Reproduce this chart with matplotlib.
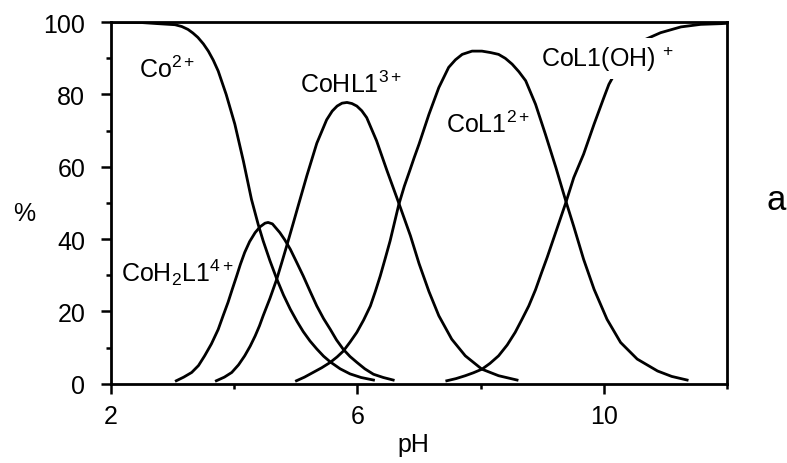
import matplotlib
matplotlib.use("Agg")
import matplotlib.pyplot as plt
from matplotlib.ticker import MultipleLocator

plt.rcParams['font.family'] = ['Liberation Sans', 'DejaVu Sans']
plt.rcParams['mathtext.fontset'] = 'custom'
plt.rcParams['mathtext.rm'] = 'Liberation Sans'
plt.rcParams['mathtext.it'] = 'Liberation Sans'
plt.rcParams['mathtext.default'] = 'regular'

# species distribution (pH, % of total Co)
ph_co = [2.0, 2.5, 2.76, 3.04, 3.15, 3.25, 3.33, 3.41, 3.50, 3.58, 3.66,
         3.74, 3.87, 4.01, 4.15, 4.28, 4.39, 4.47, 4.58, 4.69, 4.80, 4.91,
         5.02, 5.12, 5.23, 5.34, 5.45, 5.56, 5.72, 5.88, 6.06, 6.26]
pct_co = [100, 99.9, 99.6, 99.3, 98.8, 98.0, 97.0, 95.8, 94.0, 92.0, 89.5,
          86.5, 80.0, 71.8, 61.5, 51.0, 44.0, 39.5, 34.0, 29.0, 24.5, 20.6,
          17.2, 14.4, 11.8, 9.6, 7.6, 6.0, 4.1, 2.7, 1.7, 1.0]

ph_coh2l = [3.06, 3.18, 3.31, 3.42, 3.52, 3.63, 3.74, 3.82, 3.90, 3.97, 4.04,
            4.10, 4.17, 4.25, 4.34, 4.42, 4.50, 4.55, 4.62, 4.74, 4.82, 4.91,
            5.01, 5.12, 5.23, 5.34, 5.45, 5.56, 5.66, 5.77, 5.88, 5.99, 6.12,
            6.26, 6.42, 6.58]
pct_coh2l = [0.8, 1.8, 3.1, 5.0, 7.7, 11.0, 15.0, 18.8, 22.5, 26.2, 29.8,
             33.0, 36.3, 39.3, 41.8, 43.4, 44.4, 44.6, 44.2, 41.8, 39.8, 37.2,
             33.7, 29.8, 25.6, 21.5, 18.0, 15.0, 12.1, 9.5, 7.5, 5.9, 4.1,
             2.6, 1.7, 1.0]

ph_cohl = [3.71, 3.84, 3.96, 4.07, 4.17, 4.26, 4.34, 4.41, 4.47, 4.58, 4.69,
           4.77, 4.85, 4.96, 5.04, 5.18, 5.34, 5.50, 5.59, 5.67, 5.75, 5.83,
           5.91, 5.99, 6.07, 6.15, 6.31, 6.48, 6.67, 6.86, 7.0, 7.16, 7.32,
           7.53, 7.75, 8.02, 8.29, 8.59]
pct_cohl = [0.8, 1.8, 3.1, 5.2, 7.7, 10.4, 13.2, 16.0, 18.8, 23.6, 28.9,
            33.4, 38.0, 44.5, 49.3, 57.6, 66.5, 73.0, 75.4, 76.8, 77.6, 77.8,
            77.5, 76.8, 75.5, 73.6, 67.2, 58.9, 50.0, 40.9, 33.2, 25.5, 18.8,
            12.3, 7.7, 4.0, 2.2, 1.0]

ph_col = [5.01, 5.14, 5.28, 5.42, 5.56, 5.67, 5.77, 5.88, 5.99, 6.10, 6.21,
          6.29, 6.37, 6.45, 6.53, 6.60, 6.67, 6.76, 6.85, 6.92, 7.0, 7.16,
          7.32, 7.48, 7.59, 7.70, 7.86, 8.02, 8.16, 8.29, 8.40, 8.51, 8.62,
          8.73, 8.89, 9.05, 9.22, 9.38, 9.51, 9.67, 9.84, 10.05, 10.27,
          10.54, 10.87, 11.1, 11.35]
pct_col = [0.8, 1.8, 3.1, 4.4, 5.9, 7.4, 9.0, 11.5, 14.2, 17.6, 21.5, 25.5,
           29.8, 34.6, 39.5, 44.5, 49.5, 54.6, 59.0, 62.5, 66.3, 74.5, 81.9,
           87.5, 89.6, 91.1, 92.0, 92.0, 91.6, 91.1, 90.0, 88.4, 86.3, 83.8,
           77.3, 69.0, 59.8, 50.6, 43.5, 34.4, 26.1, 17.8, 11.4, 6.8, 3.5,
           2.0, 1.0]

ph_cooh = [7.45, 7.60, 7.75, 7.88, 8.02, 8.15, 8.29, 8.43, 8.56, 8.67, 8.78,
           8.89, 8.99, 9.08, 9.16, 9.27, 9.38, 9.51, 9.67, 9.84, 10.0, 10.08,
           10.2, 10.35, 10.5, 10.68, 10.92, 11.25, 11.57, 11.9, 12.0]
pct_cooh = [0.8, 1.4, 2.2, 3.0, 4.0, 5.6, 7.7, 10.7, 14.2, 17.8, 21.5, 26.0,
            30.8, 35.0, 39.0, 44.5, 50.0, 57.0, 63.5, 71.8, 79.2, 82.8, 86.5,
            90.0, 92.8, 95.3, 97.1, 98.7, 99.4, 99.6, 99.7]

species = [(ph_co, pct_co), (ph_coh2l, pct_coh2l), (ph_cohl, pct_cohl),
           (ph_col, pct_col), (ph_cooh, pct_cooh)]

x_major = [2, 6, 10]
x_minor = [4, 8, 12]

fig = plt.figure(figsize=(7.87, 4.64), dpi=100)
ax = fig.add_axes([0.141, 0.171, 0.783, 0.779])

for ph, pct in species:
    ax.plot(ph, pct, color='black', lw=2.0, solid_joinstyle='round', zorder=2)

ax.set_xlim(2, 12)
ax.set_ylim(0, 100)
ax.set_xticks(x_major)
ax.set_xticks(x_minor, minor=True)
ax.yaxis.set_major_locator(MultipleLocator(20))
ax.yaxis.set_minor_locator(MultipleLocator(10))
ax.tick_params(which='both', direction='out', width=1.8, labelsize=18,
               colors='black')
ax.tick_params(axis='x', which='major', length=7.5, pad=7)
ax.tick_params(axis='y', which='major', length=7.5, pad=11)
ax.tick_params(which='minor', length=3.8)
for sp in ax.spines.values():
    sp.set_linewidth(2.0)

fs = 18
ax.text(2.46, 84.8, r'Co$^{\mathregular{2+}}$', fontsize=fs, va='baseline')
ax.text(2.16, 28.4, r'CoH$_2$L1$^{\mathregular{4+}}$', fontsize=fs,
        va='baseline')
ax.text(5.07, 80.6, r'CoHL1$^{\mathregular{3+}}$', fontsize=fs, va='baseline')
ax.text(7.43, 69.6, r'CoL1$^{\mathregular{2+}}$', fontsize=fs, va='baseline')
ax.text(8.98, 87.8, r'CoL1(OH)$\ ^{\mathregular{+}}$', fontsize=fs,
        va='baseline', zorder=3,
        bbox=dict(facecolor='white', edgecolor='none', pad=4))

fig.text(24 / 787, 1 - 214 / 464, '%', fontsize=fs, ha='center', va='center')
fig.text(413 / 787, 1 - 452 / 464, 'pH', fontsize=fs, ha='center',
         va='baseline')
fig.text(767 / 787, 1 - 210 / 464, 'a', fontsize=25, ha='left', va='baseline')

fig.savefig('out.png', dpi=100)
